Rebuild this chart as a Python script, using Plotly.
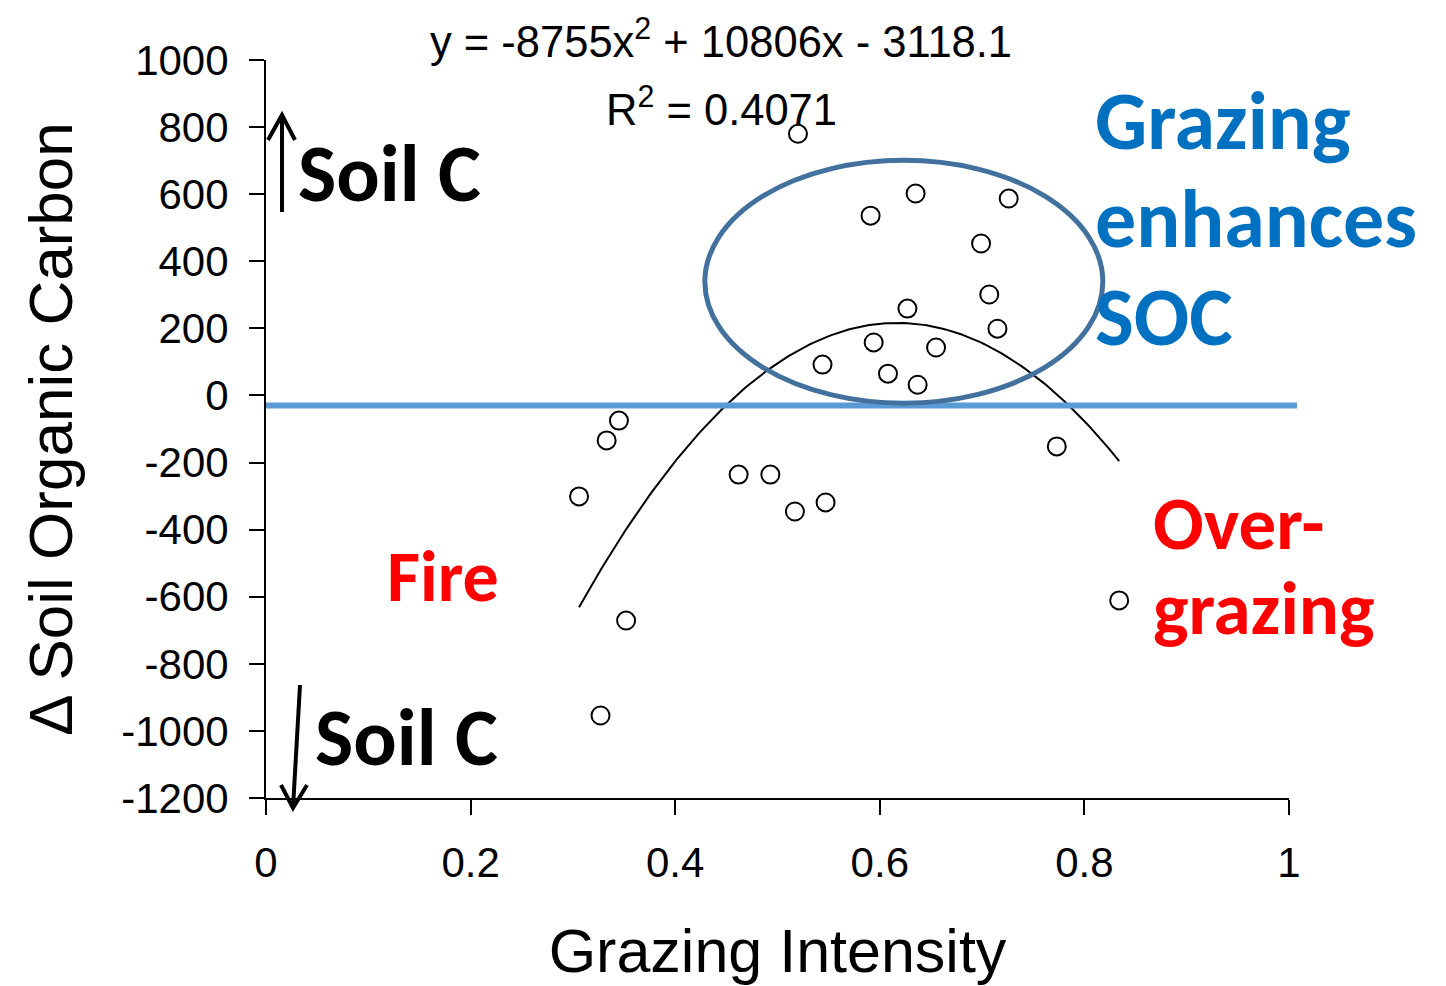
import numpy as np
import plotly.graph_objects as go

# ---- data -------------------------------------------------------------
grazing_intensity = [0.520, 0.635, 0.591, 0.726, 0.699, 0.707, 0.627, 0.715,
                     0.594, 0.655, 0.544, 0.608, 0.637, 0.345, 0.333, 0.306,
                     0.462, 0.493, 0.517, 0.547, 0.773, 0.834, 0.352, 0.327]
delta_soc = [780, 602, 536, 587, 453, 301, 259, 199,
             158, 143, 92, 65, 32, -75, -134, -301,
             -236, -236, -346, -319, -152, -611, -671, -954]

# quadratic trendline y = a*x^2 + b*x + c
trend_coeffs = [-8755, 10806, -3118.1]
r_squared = 0.4071

reference_level = -30

x_tick_vals = [0, 0.2, 0.4, 0.6, 0.8, 1]
x_tick_text = ["0", "0.2", "0.4", "0.6", "0.8", "1"]
y_tick_vals = [-1200, -1000, -800, -600, -400, -200, 0, 200, 400, 600, 800, 1000]
y_tick_text = ["-1200", "-1000", "-800", "-600", "-400", "-200", "0",
               "200", "400", "600", "800", "1000"]

x_range = [0, 1]
y_range = [-1200, 1000]

# ---- page geometry ------------------------------------------------------
W, H = 1446, 986
PLOT_L, PLOT_R, PLOT_T, PLOT_B = 266, 1289, 60, 798


def px(xp):
    """pixel column -> paper x"""
    return (xp - PLOT_L) / (PLOT_R - PLOT_L)


def py(yp):
    """pixel row -> paper y"""
    return (PLOT_B - yp) / (PLOT_B - PLOT_T)


AXIS_FONT = "Liberation Sans, Arial, sans-serif"
CALLOUT_FONT = "Calibri, Carlito, Lato, sans-serif"

# ---- traces -------------------------------------------------------------
a, b, c = trend_coeffs
x_fit = np.linspace(min(grazing_intensity), max(grazing_intensity), 200)
y_fit = a * x_fit ** 2 + b * x_fit + c

fig = go.Figure()
fig.add_trace(go.Scatter(
    x=x_fit, y=y_fit, mode="lines",
    line=dict(color="black", width=2),
    hoverinfo="skip", showlegend=False,
))
fig.add_trace(go.Scatter(
    x=grazing_intensity, y=delta_soc, mode="markers",
    marker=dict(symbol="circle-open", size=18, color="black",
                line=dict(width=2, color="black")),
    showlegend=False,
))

# ---- shapes -------------------------------------------------------------
ref_paper_y = (reference_level - y_range[0]) / (y_range[1] - y_range[0])
shapes = [
    # zero-change reference line
    dict(type="line", xref="paper", yref="paper",
         x0=0, x1=px(1297), y0=ref_paper_y, y1=ref_paper_y,
         line=dict(color="#5B9BD5", width=6), layer="above"),
    # highlighted cluster
    dict(type="circle", xref="x", yref="y",
         x0=0.429, x1=0.818, y0=-23, y1=701,
         line=dict(color="#41719C", width=5), layer="above"),
]


def arrow(x_from, y_from, x_tip, y_tip, left_arm, right_arm):
    shaft = f"M {px(x_from)},{py(y_from)} L {px(x_tip)},{py(y_tip)}"
    head = (f"M {px(left_arm[0])},{py(left_arm[1])} "
            f"L {px(x_tip)},{py(y_tip)} "
            f"L {px(right_arm[0])},{py(right_arm[1])}")
    return [
        dict(type="path", xref="paper", yref="paper", path=shaft,
             line=dict(color="black", width=4)),
        dict(type="path", xref="paper", yref="paper", path=head,
             line=dict(color="black", width=4)),
    ]


shapes += arrow(282, 212, 282, 115, (268, 140), (295, 140))
shapes += arrow(300, 685, 293, 808, (281, 785), (307, 785))

# ---- annotations --------------------------------------------------------
equation = f"y = {a}x<sup>2</sup> + {b}x - {abs(c)}"
r2_text = f"R<sup>2</sup> = {r_squared}"


def label(text, x, y, size, color, family=CALLOUT_FONT, xanchor="left"):
    return dict(text=text, x=px(x), y=py(y), xanchor=xanchor, yanchor="middle",
                xref="paper", yref="paper", showarrow=False,
                font=dict(family=family, size=size, color=color))


annotations = [
    label(equation, 721, 39, 43.5, "black", AXIS_FONT, "center"),
    label(r2_text, 721, 106, 43.5, "black", AXIS_FONT, "center"),
    label("<b>Soil C</b>", 296, 174, 81, "black"),
    label("<b>Soil C</b>", 313, 737, 81, "black"),
    label("<b>Grazing</b>", 1093, 121, 82, "#0070C0"),
    label("<b>enhances</b>", 1093, 219, 82, "#0070C0"),
    label("<b>SOC</b>", 1093, 317, 82, "#0070C0"),
    label("<b>Fire</b>", 385, 576, 72, "#FF0000"),
    label("<b>Over-</b>", 1151, 523, 75, "#FF0000"),
    label("<b>grazing</b>", 1151, 608, 75, "#FF0000"),
]

# ---- layout -------------------------------------------------------------
axis_common = dict(
    showline=True, linecolor="black", linewidth=2,
    ticks="outside", ticklen=15, tickwidth=2, tickcolor="black",
    showgrid=False, zeroline=False, automargin=False,
    tickfont=dict(family=AXIS_FONT, size=42, color="black"),
)

fig.update_layout(
    template="none",
    width=W, height=H, autosize=False,
    margin=dict(l=PLOT_L, r=W - PLOT_R, t=PLOT_T, b=H - PLOT_B, pad=0),
    paper_bgcolor="white", plot_bgcolor="white",
    shapes=shapes, annotations=annotations,
    xaxis=dict(range=x_range, tickmode="array", tickvals=x_tick_vals,
               ticktext=x_tick_text, ticklabelstandoff=12,
               title=dict(text="Grazing Intensity", standoff=44,
                          font=dict(family=AXIS_FONT, size=61, color="black")),
               **axis_common),
    yaxis=dict(range=y_range, tickmode="array", tickvals=y_tick_vals,
               ticktext=y_tick_text, ticklabelstandoff=12,
               title=dict(text="Δ Soil Organic Carbon", standoff=28,
                          font=dict(family=AXIS_FONT, size=62, color="black")),
               **axis_common),
    showlegend=False,
)

fig.write_html("out.html")
